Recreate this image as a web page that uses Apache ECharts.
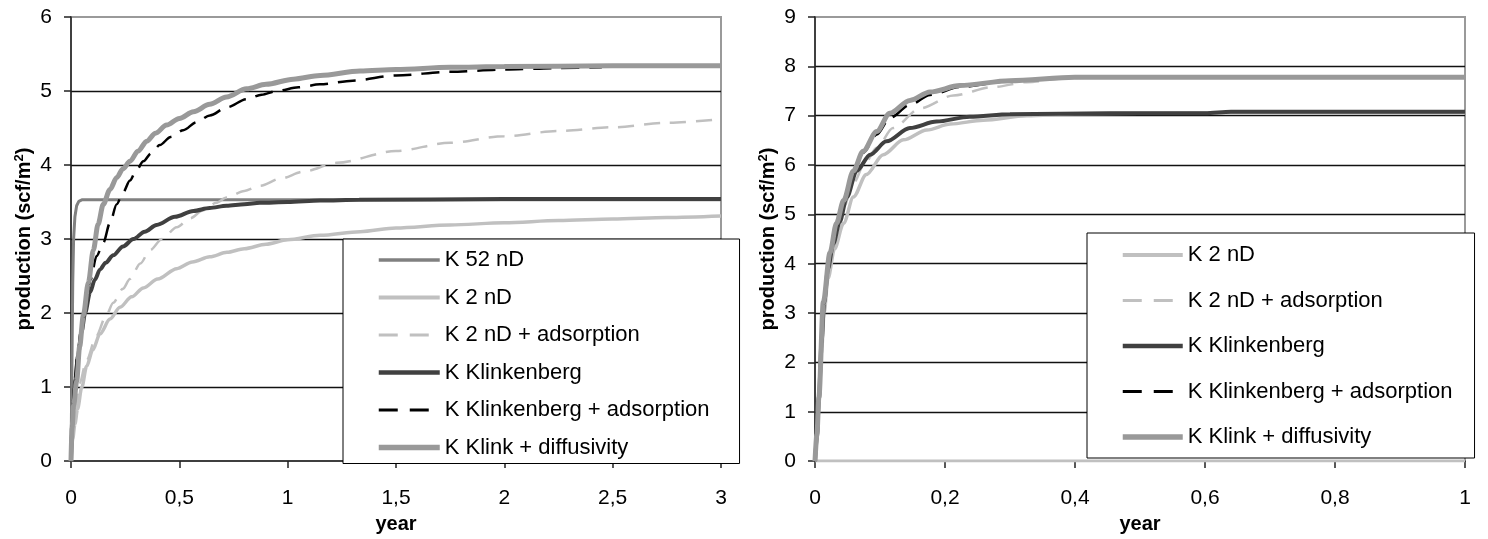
<!DOCTYPE html>
<html>
<head>
<meta charset="utf-8">
<script src="https://cdn.jsdelivr.net/npm/echarts@6/dist/echarts.min.js"></script>
<style>html,body{margin:0;padding:0;background:#fff}#c{width:1488px;height:539px}</style>
</head>
<body>
<div id="c"></div>
<script>
// ---- tick labels ----
const leftXTicks = ['0','0,5','1','1,5','2','2,5','3'];
const rightXTicks = ['0','0,2','0,4','0,6','0,8','1'];
const leftYTicks = ['0','1','2','3','4','5','6'];
const rightYTicks = ['0','1','2','3','4','5','6','7','8','9'];

// ---- series names ----
const names = ['K 52 nD','K 2 nD','K 2 nD + adsorption','K Klinkenberg','K Klinkenberg + adsorption','K Klink + diffusivity'];

// ---- left chart data [year, production] ----
const L_k52 = [[0,0],[0.004,1.2],[0.008,2.4],[0.012,3.0],[0.018,3.3],[0.026,3.45],[0.036,3.51],[0.05,3.53],[3,3.53]];
const L_k2 = [[0,0],[0.008,0.3],[0.018,0.5],[0.03,0.7],[0.05,1.0],[0.072,1.28],[0.1,1.5],[0.134,1.72],[0.18,1.92],[0.226,2.08],[0.28,2.22],[0.334,2.34],[0.4,2.46],[0.488,2.6],[0.56,2.69],[0.641,2.76],[0.72,2.82],[0.8,2.87],[0.9,2.93],[1.0,2.99],[1.15,3.05],[1.334,3.1],[1.5,3.15],[1.75,3.19],[2,3.22],[2.25,3.25],[2.5,3.27],[2.75,3.29],[3,3.31]];
const L_k2ads = [[0,0],[0.008,0.35],[0.02,0.7],[0.04,1.05],[0.07,1.35],[0.118,1.7],[0.16,1.95],[0.195,2.14],[0.24,2.33],[0.272,2.46],[0.32,2.67],[0.365,2.85],[0.42,3.0],[0.488,3.16],[0.55,3.28],[0.61,3.39],[0.67,3.49],[0.718,3.56],[0.8,3.65],[0.872,3.72],[0.97,3.82],[1.072,3.91],[1.226,4.03],[1.5,4.19],[1.75,4.3],[2,4.39],[2.25,4.46],[2.5,4.51],[2.75,4.57],[3,4.62]];
const L_klink = [[0,0],[0.005,0.5],[0.012,0.8],[0.02,1.1],[0.032,1.42],[0.049,1.75],[0.065,2.0],[0.088,2.28],[0.11,2.45],[0.134,2.59],[0.16,2.68],[0.195,2.78],[0.24,2.9],[0.288,3.0],[0.34,3.1],[0.395,3.19],[0.48,3.3],[0.565,3.38],[0.64,3.42],[0.718,3.45],[0.8,3.47],[0.872,3.49],[1.0,3.5],[1.15,3.52],[1.33,3.53],[2,3.54],[3,3.54]];
const L_klinkads = [[0,0],[0.006,0.6],[0.015,1.0],[0.03,1.45],[0.05,1.85],[0.07,2.2],[0.09,2.45],[0.118,2.77],[0.149,2.95],[0.18,3.22],[0.211,3.47],[0.24,3.63],[0.272,3.79],[0.3,3.92],[0.334,4.05],[0.37,4.16],[0.41,4.27],[0.46,4.38],[0.518,4.47],[0.58,4.58],[0.641,4.67],[0.72,4.78],[0.81,4.89],[0.88,4.95],[0.949,5.0],[1.05,5.05],[1.149,5.09],[1.3,5.14],[1.5,5.21],[1.75,5.26],[2,5.29],[2.25,5.31],[2.45,5.32]];
const L_diff = [[0,0],[0.005,0.45],[0.012,0.75],[0.026,1.08],[0.04,1.55],[0.057,1.97],[0.08,2.41],[0.103,2.85],[0.125,3.2],[0.149,3.47],[0.18,3.67],[0.211,3.83],[0.24,3.95],[0.272,4.05],[0.31,4.19],[0.349,4.32],[0.39,4.43],[0.441,4.54],[0.5,4.63],[0.565,4.72],[0.64,4.82],[0.718,4.92],[0.81,5.03],[0.9,5.09],[1.026,5.16],[1.15,5.21],[1.334,5.27],[1.5,5.29],[1.75,5.32],[2,5.33],[2.5,5.34],[3,5.34]];

// ---- right chart data [year, production] ----
const R_zero = [[0,0],[1,0]];
const R_k2 = [[0,0],[0.003,0.5],[0.006,1.2],[0.01,2.2],[0.014,3.0],[0.02,3.7],[0.03,4.3],[0.044,4.82],[0.059,5.35],[0.079,5.81],[0.105,6.21],[0.136,6.51],[0.172,6.71],[0.208,6.83],[0.259,6.91],[0.326,7.0],[0.4,7.04],[0.5,7.05],[0.65,7.06],[1,7.06]];
const R_k2ads = [[0,0],[0.003,0.5],[0.006,1.2],[0.01,2.3],[0.014,3.1],[0.02,3.8],[0.03,4.5],[0.044,5.15],[0.06,5.65],[0.075,6.0],[0.095,6.35],[0.12,6.75],[0.162,7.15],[0.213,7.41],[0.274,7.58],[0.326,7.68],[0.387,7.76],[0.45,7.78],[1,7.78]];
const R_klink = [[0,0],[0.003,0.5],[0.006,1.25],[0.01,2.4],[0.014,3.2],[0.02,3.9],[0.028,4.4],[0.038,4.85],[0.049,5.35],[0.064,5.88],[0.085,6.21],[0.11,6.48],[0.146,6.75],[0.187,6.88],[0.238,6.98],[0.3,7.03],[0.454,7.05],[0.6,7.05],[0.64,7.08],[1,7.08]];
const R_klinkads = [[0,0],[0.003,0.55],[0.006,1.3],[0.0128,3.2],[0.023,4.2],[0.033,4.8],[0.044,5.28],[0.059,5.85],[0.074,6.25],[0.095,6.62],[0.115,6.95],[0.146,7.22],[0.177,7.42],[0.223,7.58],[0.3,7.7],[0.4,7.77],[1,7.77]];
const R_diff = [[0,0],[0.003,0.55],[0.006,1.3],[0.0128,3.22],[0.023,4.22],[0.033,4.82],[0.044,5.28],[0.059,5.88],[0.074,6.28],[0.095,6.68],[0.115,7.05],[0.146,7.31],[0.177,7.48],[0.223,7.61],[0.3,7.71],[0.4,7.78],[1,7.78]];

const FONT = 'Liberation Sans, Arial, sans-serif';
const styles = {
  'K 52 nD': {color:'#808080', width:3, type:'solid'},
  'K 2 nD': {color:'#c0c0c0', width:3.5, type:'solid'},
  'K 2 nD + adsorption': {color:'#c0c0c0', width:2.5, type:[16,10]},
  'K Klinkenberg': {color:'#404040', width:4, type:'solid'},
  'K Klinkenberg + adsorption': {color:'#000000', width:2.5, type:[18,10]},
  'K Klink + diffusivity': {color:'#999999', width:5, type:'solid'}
};
function mkSeries(name, data, idx, smooth) {
  const s = styles[name];
  return {
    name: name, type:'line', data: data, xAxisIndex: idx, yAxisIndex: idx,
    symbol:'none', smooth: smooth ? 0.3 : false, smoothMonotone:'x',
    lineStyle:{color:s.color, width:s.width, type:s.type},
    itemStyle:{color:s.color}, animation:false, silent:true
  };
}
function legendItems(list, legendWidths) {
  return list.map(n => ({
    name: n,
    itemStyle: {opacity: 0, color: 'transparent', borderWidth: 0},
    lineStyle: {width: styles[n].width + (legendWidths ? 0.5 : 0), color: styles[n].color,
      type: styles[n].type === 'solid' ? 'solid' : [19, 12]}
  }));
}
function xAxisCfg(idx, max, interval, labels) {
  return {
    type:'value', gridIndex: idx, min:0, max:max, interval:interval,
    name:'year', nameLocation:'middle', nameGap:48,
    nameTextStyle:{fontFamily:FONT, fontSize:20, fontWeight:'bold', color:'#000'},
    axisLine:{show:true, lineStyle:{color:'#222', width:1.5}},
    axisTick:{show:true, length:7, lineStyle:{color:'#222', width:1.5}},
    axisLabel:{fontFamily:FONT, fontSize:21, color:'#000', margin:27,
      formatter:(v,i)=>labels[i] !== undefined ? labels[i] : ''},
    splitLine:{show:false}
  };
}
function yAxisCfg(idx, max, labels) {
  return {
    type:'value', gridIndex: idx, min:0, max:max, interval:1,
    name:'{a|production (scf/m}{s|2}{a|)}', nameLocation:'middle', nameGap:36,
    nameTextStyle:{rich:{
      a:{fontFamily:FONT, fontSize:20, fontWeight:'bold', color:'#000'},
      s:{fontFamily:FONT, fontSize:13, fontWeight:'bold', color:'#000', padding:[0,0,9,0]}
    }},
    axisLine:{show:true, lineStyle:{color:'#222', width:1.5}},
    axisTick:{show:true, length:7, lineStyle:{color:'#222', width:1.5}},
    axisLabel:{fontFamily:FONT, fontSize:21, color:'#000', margin:19,
      formatter:(v,i)=>labels[i] !== undefined ? labels[i] : ''},
    splitLine:{show:true, showMinLine:false, showMaxLine:false, lineStyle:{color:'#111', width:1.3}}
  };
}

const chart = echarts.init(document.getElementById('c'), null, {renderer:'canvas'});
chart.setOption({
  backgroundColor:'#fff',
  animation:false,
  grid:[
    {left:71, top:17, width:650, height:451, show:true, borderColor:'#9a9a9a', borderWidth:2, backgroundColor:'#fff'},
    {left:815, top:17, width:650, height:451, show:true, borderColor:'#9a9a9a', borderWidth:2, backgroundColor:'#fff'}
  ],
  xAxis:[xAxisCfg(0, 3, 0.5, leftXTicks), xAxisCfg(1, 1, 0.2, rightXTicks)],
  yAxis:[yAxisCfg(0, 6, leftYTicks), yAxisCfg(1, 9, rightYTicks)],
  legend:[
    {
      data: legendItems(names, true), orient:'vertical', left:343, top:239,
      itemWidth:61, itemHeight:14, itemGap:15.5,
      padding:[10, 30, 5, 33],
      backgroundColor:'#fff', borderColor:'#000', borderWidth:1, borderRadius:0,
      textStyle:{fontFamily:FONT, fontSize:22, color:'#000', lineHeight:22},
      selectedMode:false
    },
    {
      data: legendItems(names.slice(1), true), orient:'vertical', left:1087, top:233,
      itemWidth:60, itemHeight:14, itemGap:23.5,
      padding:[11, 22, 10, 33],
      backgroundColor:'#fff', borderColor:'#000', borderWidth:1, borderRadius:0,
      textStyle:{fontFamily:FONT, fontSize:22, color:'#000', lineHeight:22},
      selectedMode:false
    }
  ],
  series:[
    mkSeries('K 52 nD', L_k52, 0, false),
    mkSeries('K 2 nD', L_k2, 0, true),
    mkSeries('K 2 nD + adsorption', L_k2ads, 0, true),
    mkSeries('K Klinkenberg', L_klink, 0, true),
    mkSeries('K Klinkenberg + adsorption', L_klinkads, 0, true),
    mkSeries('K Klink + diffusivity', L_diff, 0, true),
    {name:'zero', type:'line', data:R_zero, xAxisIndex:1, yAxisIndex:1, symbol:'none',
     lineStyle:{color:'#c0c0c0', width:3}, silent:true, animation:false},
    mkSeries('K 2 nD', R_k2, 1, true),
    mkSeries('K 2 nD + adsorption', R_k2ads, 1, true),
    mkSeries('K Klinkenberg', R_klink, 1, true),
    mkSeries('K Klinkenberg + adsorption', R_klinkads, 1, true),
    mkSeries('K Klink + diffusivity', R_diff, 1, true)
  ]
});
</script>
</body>
</html>
